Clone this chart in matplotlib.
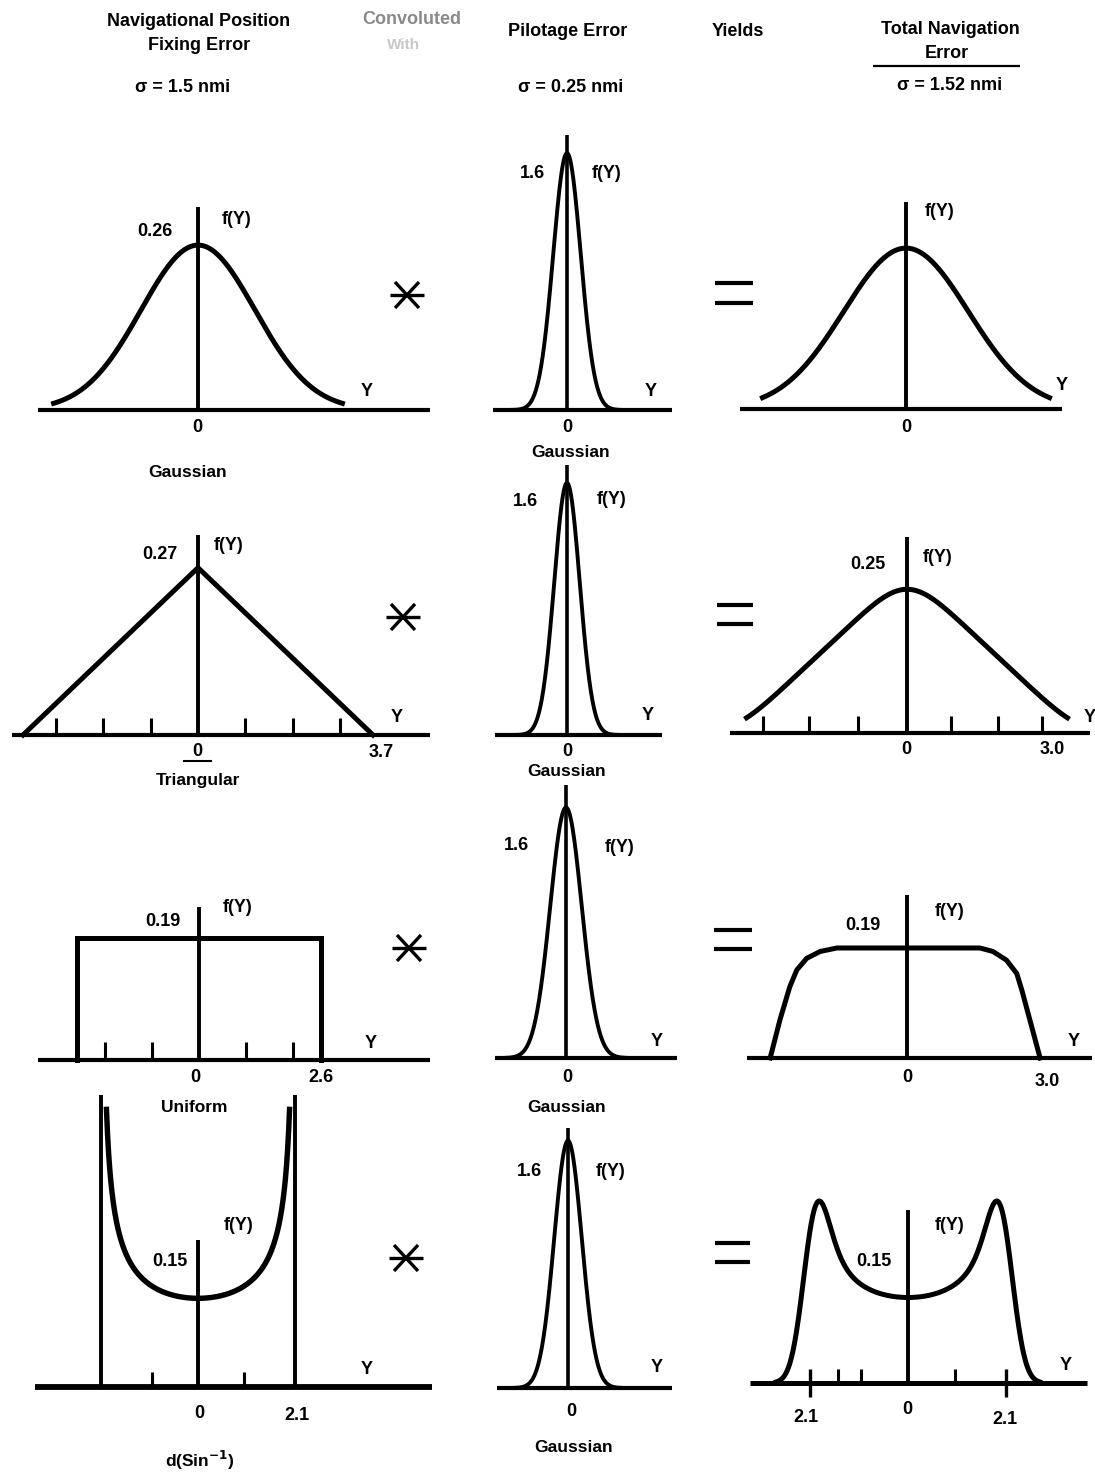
import numpy as np
import matplotlib
matplotlib.use("Agg")
import matplotlib.pyplot as plt
from matplotlib.lines import Line2D
from matplotlib.markers import TICKUP

# ---------------- data ----------------
nav_sigma = 1.5          # Gaussian fixing error
pilot_sigma = 0.25       # pilotage error
total_sigma = 1.52       # total navigation error
tri_half = 3.7           # triangular half width
uni_half = 2.6           # uniform half width
arc_half = 2.1           # d(sin^-1) half width
arc_marker_height = 0.5  # height of the +/-2.1 marker lines

nav_names = ["Gaussian", "Triangular", "Uniform", "d(Sin$^{\\mathbf{-1}}$)"]
nav_peak_labels = ["0.26", "0.27", "0.19", "0.15"]
nav_edge_labels = [None, "3.7", "2.6", "2.1"]
pilot_peak_label = "1.6"
total_peak_labels = [None, "0.25", "0.19", "0.15"]
total_edge_labels = [None, "3.0", "3.0", "2.1"]

nav_ticks = [[], [-3, -2, -1, 1, 2, 3], [-2, -1, 1, 2], [-1, 1]]
total_ticks = [[], [-3.1, -2.1, -1.05, 0.95, 1.95, 2.9], [], [-1.5, -1.0, 1.0]]
total_cross_ticks = [-2.1, 2.1]

nav_extent = [3.8, None, None, 1.99]        # how far the drawn curves run
pilot_extent = [1.07, 1.18, 0.97, 1.07]
total_extent = [3.5, 3.45, None, 2.82]
total_smoothing = [None, 0.5, None, 0.25]   # kernel widths of the drawn results

# uniform * gaussian result
uni_total_x = [-2.93, -2.72, -2.51, -2.36, -2.15, -1.86, -1.50, 0.0,
               1.56, 1.84, 2.13, 2.35, 2.46, 2.63, 2.85]
uni_total_y = [0.0, 0.066, 0.123, 0.152, 0.172, 0.184, 0.19, 0.19,
               0.19, 0.184, 0.169, 0.146, 0.117, 0.066, 0.0]

# ---------------- figure ----------------
W, H = 1095, 1475
fig = plt.figure(figsize=(W / 100, H / 100), dpi=100)
fig.patch.set_facecolor("white")

LBL = ["Liberation Sans", "DejaVu Sans"]
HDR = ["Liberation Sans Narrow", "Liberation Sans", "DejaVu Sans"]


def ftext(x, y, s, size=13, family=LBL, weight="bold", color="black", **kw):
    fig.text(x / W, 1 - y / H, s, ha="center", va="center", fontsize=size,
             family=family, weight=weight, color=color, **kw)


def fline(x1, y1, x2, y2, lw=2.5):
    fig.add_artist(Line2D([x1 / W, x2 / W], [1 - y1 / H, 1 - y2 / H],
                          transform=fig.transFigure, color="black", lw=lw,
                          solid_capstyle="butt"))


def panel(origin, sx, sy, xl, xr, top, base_lw=3.0, axis_lw=2.8):
    x0, y0 = origin
    ax = fig.add_axes([xl / W, 1 - y0 / H, (xr - xl) / W, (y0 - top) / H])
    ax.set_xlim((xl - x0) / sx, (xr - x0) / sx)
    ax.set_ylim(0, (y0 - top) / sy)
    ax.axis("off")
    ax.axhline(0, color="black", lw=base_lw, clip_on=False, solid_capstyle="butt")
    ax.axvline(0, color="black", lw=axis_lw, clip_on=False, solid_capstyle="butt")
    return ax


def gauss(x, s):
    return np.exp(-0.5 * (x / s) ** 2) / (s * np.sqrt(2 * np.pi))


def smooth(x, centers, mass, s):
    return (mass[None, :] * gauss(x[:, None] - centers[None, :], s)).sum(axis=1)


def ticks_up(ax, pos, size=11, lw=2.2):
    if len(pos):
        ax.plot(pos, np.zeros(len(pos)), ls="none", marker=TICKUP, ms=size,
                mew=lw, color="black", clip_on=False)


def star(cx, cy):
    fline(cx - 17, cy, cx + 17, cy, 2.4)
    fline(cx - 12, cy - 13, cx + 12, cy + 13, 2.4)
    fline(cx + 12, cy - 13, cx - 12, cy + 13, 2.4)


def equals(x1, x2, ya, yb):
    fline(x1, ya, x2, ya, 3.0)
    fline(x1, yb, x2, yb, 3.0)


CW = 3.6   # curve width
MW = 2.8   # middle curve width

# ---------------- headers ----------------
ftext(199, 21, "Navigational Position", 13, HDR)
ftext(199, 45, "Fixing Error", 13, HDR)
ftext(183, 87, "σ = 1.5 nmi", 13, HDR)
ftext(412, 20, "Convoluted", 13, HDR, color="#8a8a8a")
ftext(404, 45, "With", 11, HDR, color="#c8c8c8")
ftext(568, 32, "Pilotage Error", 13, HDR)
ftext(571, 87, "σ = 0.25 nmi", 13, HDR)
ftext(738, 32, "Yields", 13, HDR)
ftext(950, 29, "Total Navigation", 13, HDR)
ftext(947, 53, "Error", 13, HDR)
fline(873, 66, 1020, 66, 1.6)
ftext(950, 86, "σ = 1.52 nmi", 13, HDR)

# ---------------- row 1 : Gaussian ----------------
ax = panel((198, 410), 38, 620, 38, 430, 207)
x = np.linspace(-nav_extent[0], nav_extent[0], 400)
ax.plot(x, gauss(x, nav_sigma), color="black", lw=CW, clip_on=False)
ftext(155, 231, nav_peak_labels[0]); ftext(237, 219, "f(Y)")
ftext(367, 391, "Y"); ftext(197, 428, "0"); ftext(188, 472, nav_names[0], 12.5)

ax = panel((567, 410), 55, 161, 493, 672, 135, axis_lw=2.6)
x = np.linspace(-pilot_extent[0], pilot_extent[0], 300)
ax.plot(x, gauss(x, pilot_sigma), color="black", lw=MW, clip_on=False)
ftext(532, 173, pilot_peak_label); ftext(607, 173, "f(Y)")
ftext(651, 391, "Y"); ftext(567, 428, "0"); ftext(571, 452, "Gaussian", 12.5)

ax = panel((906, 409), 41, 613, 740, 1062, 202)
x = np.linspace(-total_extent[0], total_extent[0], 400)
ax.plot(x, gauss(x, total_sigma), color="black", lw=CW, clip_on=False)
ftext(940, 211, "f(Y)"); ftext(1062, 386, "Y"); ftext(906, 428, "0")

star(407, 295); equals(715, 753, 283, 303)

# ---------------- row 2 : Triangular ----------------
ax = panel((198, 735), 47.3, 619, 12, 430, 535)
ax.plot([-tri_half, 0, tri_half], [0, 1 / tri_half, 0], color="black", lw=CW,
        clip_on=False, solid_joinstyle="miter")
ticks_up(ax, nav_ticks[1], 12)
ftext(160, 554, nav_peak_labels[1]); ftext(229, 546, "f(Y)")
ftext(397, 717, "Y"); ftext(197, 751, "0"); fline(183, 761, 212, 761, 1.5)
ftext(381, 753, nav_edge_labels[1]); ftext(198, 781, nav_names[1], 12.5)

ax = panel((567, 735), 51, 158, 495, 662, 465, axis_lw=2.6)
x = np.linspace(-pilot_extent[1], pilot_extent[1], 300)
ax.plot(x, gauss(x, pilot_sigma), color="black", lw=MW, clip_on=False)
ftext(525, 502, pilot_peak_label); ftext(612, 500, "f(Y)")
ftext(648, 715, "Y"); ftext(567, 751, "0"); ftext(567, 772, "Gaussian", 12.5)

ax = panel((907, 733), 46.5, 596, 730, 1090, 537)
yy = np.linspace(-tri_half, tri_half, 2001)
mass = np.clip(1 / tri_half - np.abs(yy) / tri_half ** 2, 0, None) * (yy[1] - yy[0])
x = np.linspace(-total_extent[1], total_extent[1], 400)
ax.plot(x, smooth(x, yy, mass, total_smoothing[1]), color="black", lw=CW, clip_on=False)
ticks_up(ax, total_ticks[1], 12)
ftext(868, 565, total_peak_labels[1]); ftext(938, 557, "f(Y)")
ftext(1090, 717, "Y"); ftext(906, 750, "0"); ftext(1052, 750, total_edge_labels[1])

star(403, 617); equals(717, 753, 605, 624)

# ---------------- row 3 : Uniform ----------------
ax = panel((199, 1060), 47, 632, 38, 430, 907)
h = 1 / (2 * uni_half)
ax.plot([-uni_half, -uni_half, uni_half, uni_half], [0, h, h, 0], color="black",
        lw=CW, clip_on=False, solid_joinstyle="miter")
ticks_up(ax, nav_ticks[2], 13)
ftext(163, 922, nav_peak_labels[2]); ftext(238, 908, "f(Y)")
ftext(371, 1043, "Y"); ftext(195, 1078, "0"); ftext(321, 1078, nav_edge_labels[2])
ftext(194, 1107, nav_names[2], 12.5)

ax = panel((566, 1058), 63, 157, 495, 677, 785, axis_lw=2.6)
x = np.linspace(-pilot_extent[2], pilot_extent[2], 300)
ax.plot(x, gauss(x, pilot_sigma), color="black", lw=MW, clip_on=False)
ftext(516, 846, pilot_peak_label); ftext(620, 847, "f(Y)")
ftext(657, 1042, "Y"); ftext(567, 1078, "0"); ftext(567, 1107, "Gaussian", 12.5)

ax = panel((907, 1058), 46.7, 579, 747, 1092, 895)
ax.plot(uni_total_x, uni_total_y, color="black", lw=CW, clip_on=False,
        solid_joinstyle="round")
ftext(863, 926, total_peak_labels[2]); ftext(950, 911, "f(Y)")
ftext(1074, 1042, "Y"); ftext(907, 1078, "0"); ftext(1047, 1081, total_edge_labels[2])

star(409, 948); equals(714, 752, 930, 949)

# ---------------- row 4 : d(sin^-1) ----------------
ax = panel((198, 1387), 46, 585, 35, 432, 1240, base_lw=4.2)
ax.vlines([-arc_half, arc_half], 0, arc_marker_height, color="black", lw=2.8,
          clip_on=False)
x = np.linspace(-nav_extent[3], nav_extent[3], 500)
ax.plot(x, 1 / (np.pi * np.sqrt(arc_half ** 2 - x ** 2)), color="black", lw=3.9,
        clip_on=False)
ticks_up(ax, nav_ticks[3], 11)
ftext(170, 1262, nav_peak_labels[3]); ftext(239, 1225, "f(Y)")
ftext(367, 1370, "Y"); ftext(199, 1413, "0"); ftext(297, 1415, nav_edge_labels[3])
ftext(200, 1460, nav_names[3], 12.5)

ax = panel((568, 1388), 55, 155, 497, 672, 1128, axis_lw=2.6)
x = np.linspace(-pilot_extent[3], pilot_extent[3], 300)
ax.plot(x, gauss(x, pilot_sigma), color="black", lw=MW, clip_on=False)
ftext(529, 1171, pilot_peak_label); ftext(611, 1171, "f(Y)")
ftext(657, 1368, "Y"); ftext(571, 1412, "0"); ftext(574, 1448, "Gaussian", 12.5)

ax = panel((908, 1383), 46.7, 560, 750, 1087, 1210, base_lw=3.6)
edges = np.linspace(-arc_half, arc_half, 4001)
cdf = 0.5 + np.arcsin(np.clip(edges / arc_half, -1, 1)) / np.pi
mass = np.diff(cdf)
centers = 0.5 * (edges[1:] + edges[:-1])
x = np.linspace(-total_extent[3], total_extent[3], 500)
ax.plot(x, smooth(x, centers, mass, total_smoothing[3]), color="black", lw=CW,
        clip_on=False)
ticks_up(ax, total_ticks[3], 10)
ax.plot(total_cross_ticks, [0, 0], ls="none", marker="|", ms=20, mew=2.4,
        color="black", clip_on=False)
ftext(874, 1262, total_peak_labels[3]); ftext(950, 1225, "f(Y)")
ftext(1066, 1365, "Y"); ftext(806, 1418, total_edge_labels[3])
ftext(907, 1410, "0"); ftext(1005, 1420, total_edge_labels[3])

star(406, 1258); equals(715, 750, 1243, 1262)

fig.savefig("out.png", dpi=100, facecolor="white")
